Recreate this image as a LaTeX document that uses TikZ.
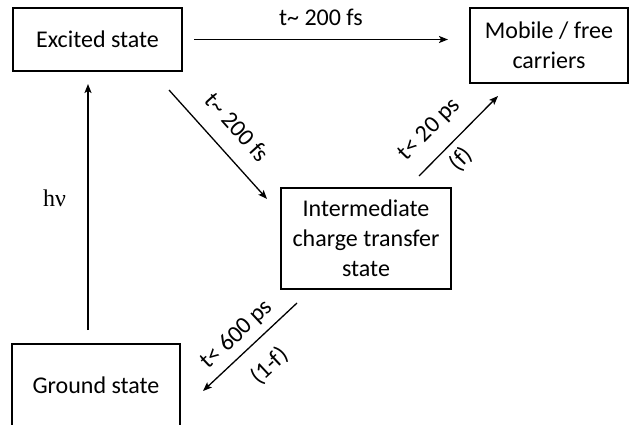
\documentclass[tikz,border=0pt]{standalone}
\usepackage{fontspec}
\setmainfont{Carlito}
\newfontfamily\symfont{Liberation Serif}
\usetikzlibrary{arrows.meta}
\tikzset{
  stbox/.style={draw, line width=2pt, align=center, inner sep=0pt,
    font=\fontsize{24}{30}\selectfont},
  arr/.style={line width=1.3pt, -{Stealth[length=9pt,width=7pt,inset=2pt]}},
  lbl/.style={inner sep=0pt, sloped, font=\fontsize{24}{30}\selectfont}
}
\begin{document}
\begin{tikzpicture}[x=1pt,y=-1pt]
\useasboundingbox (0,0) rectangle (629,425);
\clip (0,0) rectangle (629,425);
\node[stbox, minimum width=169pt, minimum height=63pt] (ex) at (97.5,39.5) {Excited state};
\node[stbox, minimum width=158pt, minimum height=75pt] (mob) at (549,45.5) {Mobile / free\\carriers};
\node[stbox, minimum width=170pt, minimum height=101pt] (int) at (366,238.5) {Intermediate\\charge transfer\\state};
\node[stbox, minimum width=168pt, minimum height=82pt] (gs) at (96,385) {Ground state};
\node[inner sep=0pt, font=\fontsize{24}{30}\selectfont\symfont] (hnu) at (54.5,198.5) {hν};

\draw[arr] ([xshift=11pt]ex.east) -- ([xshift=-21pt]ex.east -| mob.west)
  node[lbl, midway, above=13.6pt] {t\textasciitilde{} 200 fs};
\draw[arr] ([xshift=-8pt,yshift=13pt]gs.north) -- ([xshift=-9.5pt,yshift=-12pt]ex.south);
\draw[arr] ([xshift=-14pt,yshift=-18pt]ex.south east) -- ([xshift=-13pt,yshift=-12pt]int.north west)
  node[lbl, midway, above=17pt] {t\textasciitilde{} 200 fs};
\draw[arr] ([xshift=-33pt,yshift=11pt]int.north east) -- ([xshift=29pt,yshift=-12pt]mob.south west)
  node[lbl, pos=0.36, above=14.5pt] {t< 20 ps}
  node[lbl, pos=0.37, below=7pt] {(f)};
\draw[arr] ([xshift=17pt,yshift=-13pt]int.south west) -- ([xshift=22pt,yshift=-48pt]gs.north east)
  node[lbl, pos=0.51, above=7pt] {t< 600 ps}
  node[lbl, pos=0.49, below=16pt] {(1-f)};
\end{tikzpicture}
\end{document}
